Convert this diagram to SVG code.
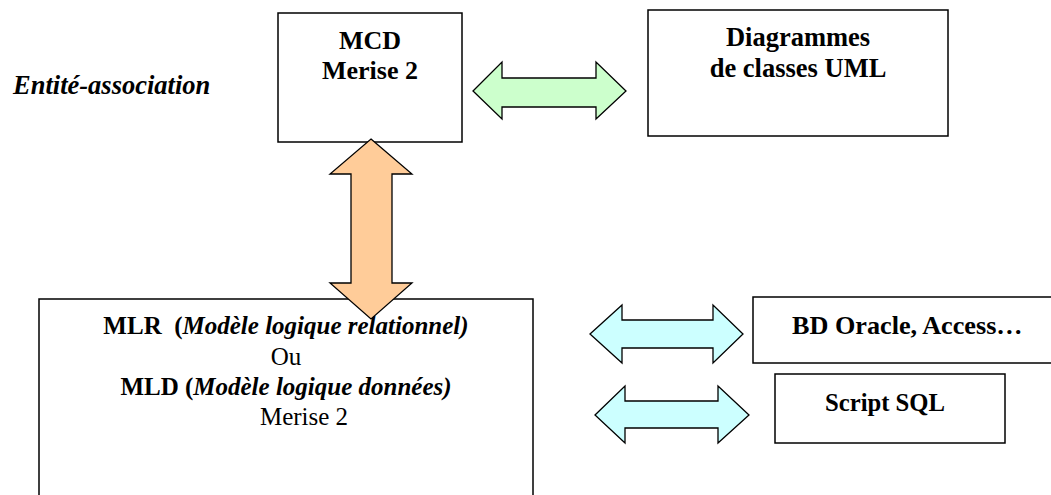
<svg xmlns="http://www.w3.org/2000/svg" width="1051" height="495" viewBox="0 0 1051 495">
<style>
.box{fill:#fff;stroke:#000;stroke-width:1.5}
.arr{stroke:#000;stroke-width:1.3;stroke-linejoin:miter}
text{font-family:'Liberation Serif','DejaVu Serif',serif;fill:#000}
.b{font-weight:bold}
.i{font-style:italic}
</style>
<rect width="1051" height="495" fill="#fff"/>
<text class="b i" x="13" y="94" font-size="26.5">Entité-association</text>
<g id="mcd">
<rect class="box" x="278" y="13" width="184" height="129"/>
<text class="b" x="370" y="48.5" font-size="26" text-anchor="middle">MCD</text>
<text class="b" x="370" y="79" font-size="26" text-anchor="middle">Merise 2</text>
</g>
<g id="uml">
<rect class="box" x="648" y="10" width="300" height="126"/>
<text class="b" x="798" y="46" font-size="26.5" text-anchor="middle">Diagrammes</text>
<text class="b" x="798" y="77" font-size="26.5" text-anchor="middle">de classes UML</text>
</g>
<g id="mlr">
<rect class="box" x="39" y="299" width="494" height="260"/>
<text x="286" y="334" font-size="25" text-anchor="middle" xml:space="preserve"><tspan class="b">MLR  (</tspan><tspan class="b i">Modèle logique relationnel)</tspan></text>
<text x="286" y="365" font-size="25" text-anchor="middle">Ou</text>
<text x="286" y="395" font-size="25" text-anchor="middle"><tspan class="b">MLD (</tspan><tspan class="b i">Modèle logique données)</tspan></text>
<text x="304" y="425" font-size="25" text-anchor="middle">Merise 2</text>
</g>
<g id="oracle">
<rect class="box" x="753" y="297" width="310" height="66"/>
<text class="b" x="792" y="333.5" font-size="26.2">BD Oracle, Access…</text>
</g>
<g id="sql">
<rect class="box" x="775" y="374" width="230" height="69"/>
<text class="b" x="885" y="411" font-size="24.7" text-anchor="middle">Script SQL</text>
</g>
<g id="connectors">
<polygon class="arr" fill="#ccffcc" points="473,91 502,62 502,78 596,78 596,62 626,91 596,119 596,107 502,107 502,119"/>
<polygon class="arr" fill="#ffcc99" points="371,139 412,174 392,174 392,283 412,283 371,319 330,283 351,283 351,174 330,174"/>
<polygon class="arr" fill="#ccffff" points="590,334 622,305 622,320 713,320 713,305 743,334 713,363 713,348 622,348 622,363"/>
<polygon class="arr" fill="#ccffff" points="595,415 625,386 625,401 718,401 718,386 749,415 718,443 718,428 625,428 625,443"/>
</g>
</svg>
